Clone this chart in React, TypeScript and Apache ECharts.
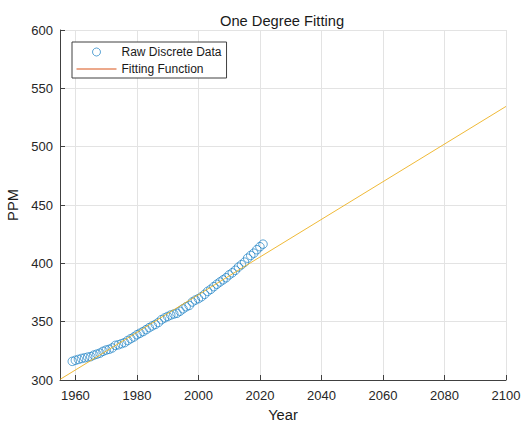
import React, { useEffect, useRef } from "react";
import * as echarts from "echarts";

const years = [
  1959, 1960, 1961, 1962, 1963, 1964, 1965, 1966, 1967, 1968, 1969, 1970, 1971,
  1972, 1973, 1974, 1975, 1976, 1977, 1978, 1979, 1980, 1981, 1982, 1983, 1984,
  1985, 1986, 1987, 1988, 1989, 1990, 1991, 1992, 1993, 1994, 1995, 1996, 1997,
  1998, 1999, 2000, 2001, 2002, 2003, 2004, 2005, 2006, 2007, 2008, 2009, 2010,
  2011, 2012, 2013, 2014, 2015, 2016, 2017, 2018, 2019, 2020, 2021,
];
const ppm = [
  315.98, 316.91, 317.64, 318.45, 318.99, 319.62, 320.04, 321.37, 322.18,
  323.05, 324.62, 325.68, 326.32, 327.46, 329.68, 330.19, 331.13, 332.03,
  333.84, 335.41, 336.84, 338.76, 340.12, 341.48, 343.15, 344.87, 346.35,
  347.61, 349.31, 351.69, 353.2, 354.45, 355.7, 356.54, 357.21, 358.96, 360.97,
  362.74, 363.88, 366.84, 368.54, 369.71, 371.32, 373.45, 375.98, 377.7,
  379.98, 382.09, 384.02, 385.83, 387.64, 390.1, 391.85, 394.06, 396.74,
  398.81, 401.01, 404.41, 406.76, 408.72, 411.66, 414.24, 416.45,
];
const fitYears = [1955, 2100];
const fitPpm = [300.5, 534.5];
const xTicks = [1960, 1980, 2000, 2020, 2040, 2060, 2080, 2100];

const FONT = "Liberation Sans, Arial, Helvetica, sans-serif";
const AXIS = "#404040";
const GRID = "#e3e3e3";

export default function App() {
  const ref = useRef<HTMLDivElement>(null);
  useEffect(() => {
    if (!ref.current) return;
    const chart = echarts.init(ref.current, undefined, { renderer: "svg" });
    chart.setOption({
      animation: false,
      backgroundColor: "#ffffff",
      textStyle: { fontFamily: FONT },
      title: {
        text: "One Degree Fitting",
        left: 220,
        top: 13,
        padding: 0,
        textStyle: { fontFamily: FONT, fontSize: 14.7, fontWeight: "normal", color: "#1a1a1a" },
      },
      legend: {
        left: 72,
        top: 42,
        orient: "vertical",
        itemWidth: 40,
        itemHeight: 8,
        itemGap: 3,
        padding: [3, 5, 2, 4],
        backgroundColor: "#ffffff",
        borderColor: AXIS,
        borderWidth: 1,
        borderRadius: 0,
        textStyle: { fontFamily: FONT, fontSize: 12, color: "#1a1a1a", lineHeight: 14 },
        data: [
          {
            name: "Raw Discrete Data",
            itemStyle: { color: "rgba(0,0,0,0)", borderColor: "#0072BD", borderWidth: 0.8 },
          },
          {
            name: "Fitting Function",
            itemStyle: { color: "#D95319", opacity: 0 },
            lineStyle: { color: "#D95319", width: 1, opacity: 1 },
          },
        ],
      },
      grid: { left: 60, top: 30, right: 15, bottom: 41, containLabel: false, outerBoundsMode: "none" },
      xAxis: {
        type: "value",
        min: 1955,
        max: 2100,
        name: "Year",
        nameLocation: "middle",
        nameGap: 27,
        nameTextStyle: { fontFamily: FONT, fontSize: 14.7, color: "#1a1a1a" },
        axisLine: { show: true, onZero: false, lineStyle: { color: AXIS, width: 1 } },
        axisTick: { show: true, inside: true, length: 5, lineStyle: { color: AXIS }, customValues: xTicks },
        axisLabel: {
          customValues: xTicks,
          margin: 9,
          fontFamily: FONT,
          fontSize: 13,
          color: "#262626",
          formatter: (v: number) => String(v),
          showMinLabel: true,
          showMaxLabel: true,
        },
        splitLine: { show: true, lineStyle: { color: GRID, width: 1 } },
      },
      yAxis: {
        type: "value",
        min: 300,
        max: 600,
        interval: 50,
        name: "PPM",
        nameLocation: "middle",
        nameGap: 26,
        nameTextStyle: { fontFamily: FONT, fontSize: 14.7, color: "#1a1a1a" },
        axisLine: { show: true, onZero: false, lineStyle: { color: AXIS, width: 1 } },
        axisTick: { show: true, inside: true, length: 5, lineStyle: { color: AXIS } },
        axisLabel: { margin: 7, fontFamily: FONT, fontSize: 13, color: "#262626" },
        splitLine: { show: true, lineStyle: { color: GRID, width: 1 } },
      },
      series: [
        {
          name: "Raw Discrete Data",
          type: "scatter",
          symbol: "circle",
          symbolSize: 8.5,
          data: years.map((y, i) => [y, ppm[i]]),
          itemStyle: { color: "rgba(0,0,0,0)", borderColor: "#0072BD", borderWidth: 0.8 },
          emphasis: { disabled: true },
        },
        {
          name: "Fitting Function",
          type: "line",
          symbol: "none",
          showSymbol: false,
          data: fitYears.map((y, i) => [y, fitPpm[i]]),
          lineStyle: { color: "#EDB120", width: 0.9 },
          itemStyle: { color: "#EDB120" },
          emphasis: { disabled: true },
        },
      ],
    });
    return () => chart.dispose();
  }, []);
  return (
    <div
      ref={ref}
      style={{ position: "fixed", left: 0, top: 0, width: 521, height: 421 }}
    />
  );
}
